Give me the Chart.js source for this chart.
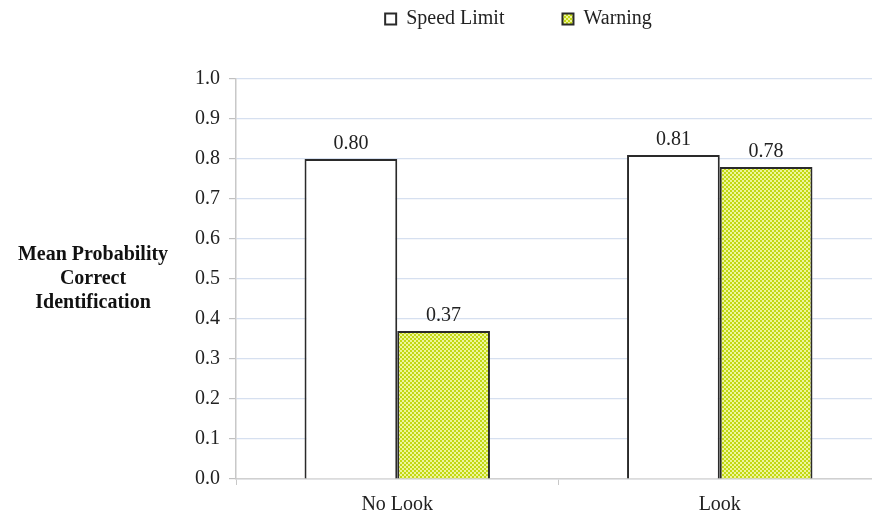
<!DOCTYPE html>
<html>
<head>
<meta charset="utf-8">
<script src="https://cdn.jsdelivr.net/npm/chart.js@4.4.1/dist/chart.umd.min.js"></script>
<style>
  html, body { margin: 0; padding: 0; background: #fff; overflow: hidden; }
  #wrap { width: 881px; height: 515px; }
</style>
</head>
<body>
<div id="wrap"><canvas id="myChart" width="881" height="515"></canvas></div>
<script>
const categories = ["No Look", "Look"];
const speedLimit = [0.80, 0.81];
const warning = [0.37, 0.78];
const seriesNames = ["Speed Limit", "Warning"];
const yTitle = ["Mean Probability", "Correct", "Identification"];

function makePattern() {
  const c = document.createElement("canvas");
  c.width = 4;
  c.height = 4;
  const g = c.getContext("2d");
  g.fillStyle = "#eef69a";
  g.fillRect(0, 0, 4, 4);
  g.fillStyle = "#c2d812";
  g.fillRect(0, 0, 2, 2);
  g.fillRect(2, 2, 2, 2);
  return document.getElementById("myChart").getContext("2d").createPattern(c, "repeat");
}

const serif = "'Liberation Serif', 'Times New Roman', serif";

// value labels above each bar
const valueLabels = {
  id: "valueLabels",
  afterDatasetsDraw(chart) {
    const ctx = chart.ctx;
    ctx.save();
    ctx.font = "20px " + serif;
    ctx.fillStyle = "#222";
    ctx.textAlign = "center";
    ctx.textBaseline = "alphabetic";
    chart.data.datasets.forEach((ds, i) => {
      chart.getDatasetMeta(i).data.forEach((bar, j) => {
        ctx.fillText(ds.data[j].toFixed(2), bar.x, bar.y - 10);
      });
    });
    ctx.restore();
  }
};

// horizontal, multi-line y axis title
const sideTitle = {
  id: "sideTitle",
  afterDraw(chart) {
    const ctx = chart.ctx;
    ctx.save();
    ctx.font = "bold 20px " + serif;
    ctx.fillStyle = "#111";
    ctx.textAlign = "center";
    ctx.textBaseline = "alphabetic";
    yTitle.forEach((t, i) => ctx.fillText(t, 93, 260 + i * 24));
    ctx.restore();
  }
};

// move legend up into the top margin and a bit left
const legendShift = {
  id: "legendShift",
  afterLayout(chart) {
    const lg = chart.legend;
    lg.left -= 10;
    lg.right -= 10;
    lg.top -= 40;
    lg.bottom -= 40;
  }
};

const ctx = document.getElementById("myChart").getContext("2d");
const myChart = new Chart(ctx, {
  type: "bar",
  data: {
    labels: categories,
    datasets: [
      {
        label: seriesNames[0],
        data: speedLimit,
        backgroundColor: "#ffffff",
        borderColor: "#2a2a2a",
        borderWidth: 2,
        categoryPercentage: 0.575,
        barPercentage: 1.0,
      },
      {
        label: seriesNames[1],
        data: warning,
        backgroundColor: makePattern(),
        borderColor: "#2a2a2a",
        borderWidth: 2,
        categoryPercentage: 0.575,
        barPercentage: 1.0,
      },
    ],
  },
  options: {
    responsive: false,
    animation: false,
    layout: { padding: { left: 176, right: 0, top: -9, bottom: 0 } },
    plugins: {
      tooltip: { enabled: false },
      legend: {
        position: "top",
        labels: {
          color: "#222",
          font: { family: serif, size: 20 },
          boxWidth: 11,
          boxHeight: 11,
          padding: 58,
        },
      },
    },
    scales: {
      x: {
        grid: {
          offset: true,
          drawOnChartArea: false,
          drawTicks: true,
          tickLength: 6,
          tickColor: "#c8c8c8",
        },
        border: { color: "#d0d0d0", width: 1.5 },
        ticks: { color: "#222", font: { family: serif, size: 20 }, padding: 8 },
        afterFit(s) { s.height = 36; },
      },
      y: {
        min: 0,
        max: 1,
        ticks: {
          stepSize: 0.1,
          color: "#222",
          font: { family: serif, size: 20 },
          padding: 9,
          callback: (v) => v.toFixed(1),
        },
        grid: { color: "#d6e0f0", lineWidth: 1.2, tickLength: 7, tickColor: "#c0c0c0" },
        border: { color: "#c8c8c8", width: 1.5 },
        afterFit(s) { s.width = 60; },
      },
    },
  },
  plugins: [valueLabels, sideTitle, legendShift],
});
</script>
</body>
</html>
